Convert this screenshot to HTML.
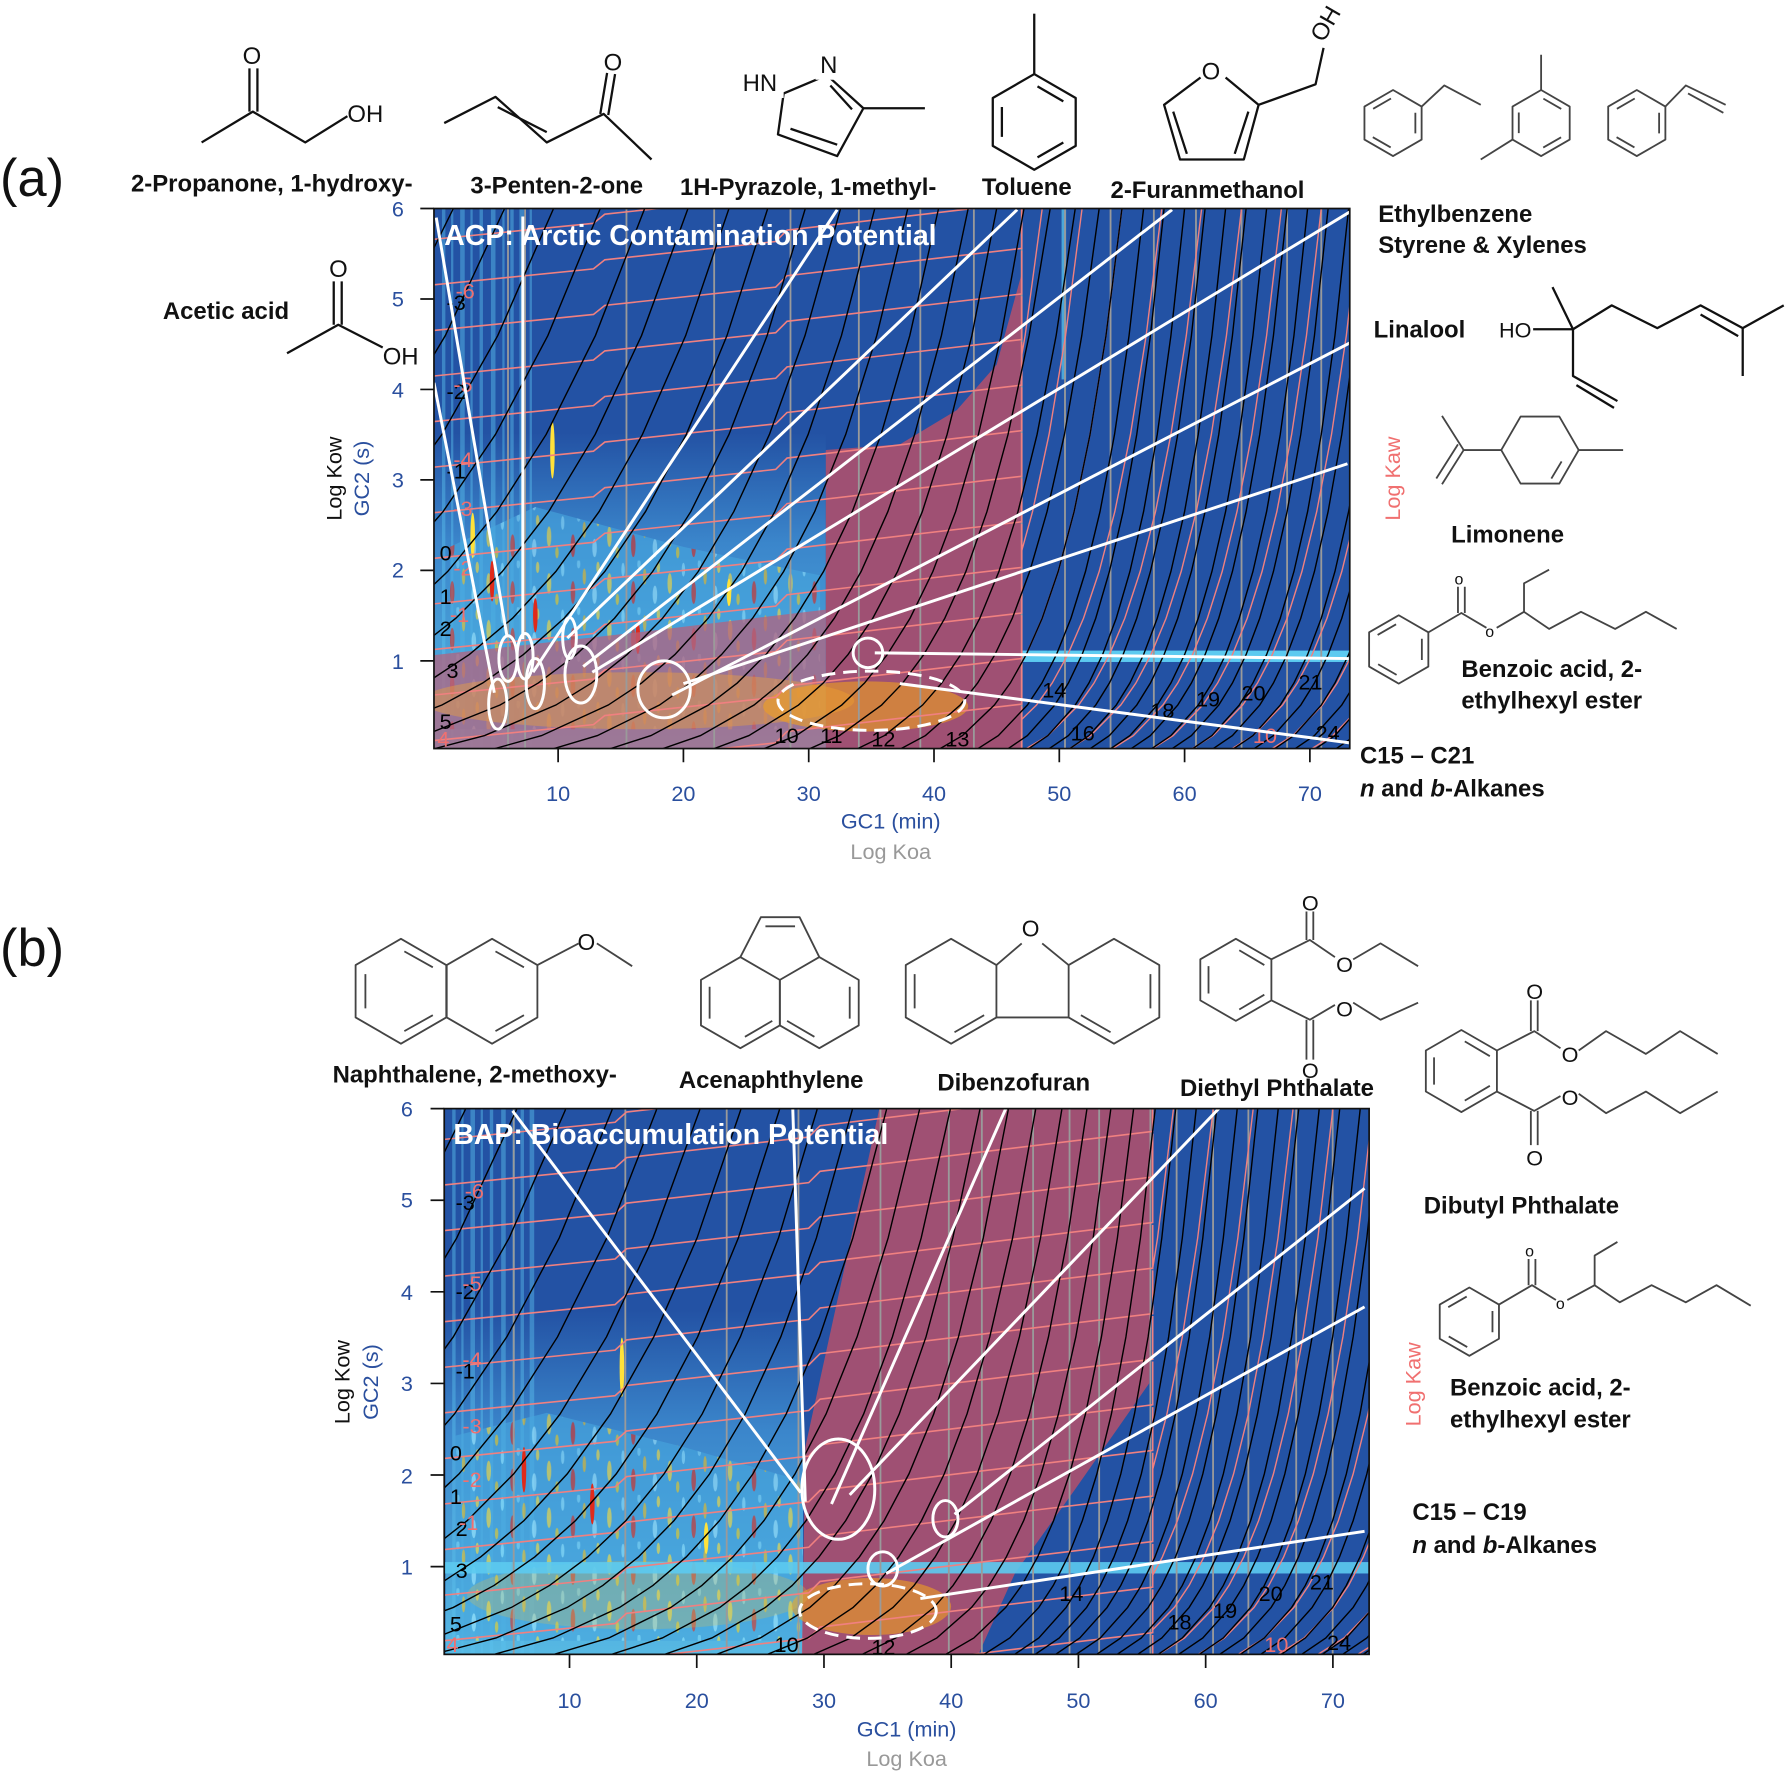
<!DOCTYPE html>
<html><head><meta charset="utf-8">
<style>
html,body{margin:0;padding:0;background:#fff;overflow:hidden;width:1786px;height:1774px;}
svg{display:block;}
text{font-family:"Liberation Sans",Arial,sans-serif;}
.lb{font-weight:bold;font-size:21px;fill:#111;}
.ax{font-size:19px;fill:#2a4f9e;}
.st{fill:none;stroke:#444;stroke-width:1.6;stroke-linejoin:round;}
.sb{fill:none;stroke:#111;stroke-width:2;stroke-linejoin:round;}
.bk{fill:none;stroke:#000;stroke-width:1.4;vector-effect:non-scaling-stroke;}
.pkc{fill:none;stroke:#f08080;stroke-width:1.4;vector-effect:non-scaling-stroke;}
.pk{fill:none;stroke:#f08080;stroke-width:1.4;}
.wl{stroke:#fff;stroke-width:2.6;fill:none;}
.nb{font-size:19px;fill:#000;}
.np{font-size:19px;fill:#f07070;}
</style></head>
<body>
<svg xmlns="http://www.w3.org/2000/svg" xmlns:xlink="http://www.w3.org/1999/xlink" width="1786" height="1774" viewBox="0 0 1568 1557" preserveAspectRatio="none">
<defs>
<clipPath id="ca"><rect x="381" y="183" width="804" height="474"/></clipPath>
<clipPath id="cb"><rect x="390" y="973" width="812" height="479"/></clipPath>
<clipPath id="car"><rect x="897" y="183" width="288" height="474"/></clipPath>
<clipPath id="cbr"><rect x="1012" y="973" width="190" height="479"/></clipPath>
<polyline id="bk" class="bk" points="-6,685.8 -5,683.6 -4,677.8 -3.5,671.8 -3,661.9 -2.5,645.6 -2,618.8 -1.75,599.5 -1.5,574.5 -1.25,542.6 -1,501.6 -0.75,449 -0.5,381.3 -0.25,294.5 0,183 0.1,130 0.2,71"/>
<polyline id="pc" class="pkc" points="-6,685.8 -5,683.6 -4,677.8 -3.5,671.8 -3,661.9 -2.5,645.6 -2,618.8 -1.75,599.5 -1.5,574.5 -1.25,542.6 -1,501.6 -0.75,449 -0.5,381.3 -0.25,294.5 0,183 0.1,130 0.2,71"/>
<polyline id="pkA" class="pk" points="0,0 140,-14 150,-22 300,-38 310,-48 516,-72 516,-110"/>
<polyline id="pkB" class="pk" points="0,0 150,-15 160,-24 320,-42 330,-52 622,-87 622,-125"/>
<pattern id="nz" width="53" height="41" patternUnits="userSpaceOnUse">
<rect width="53" height="41" fill="#46a6de"/>
<ellipse cx="5" cy="20" rx="2" ry="9" fill="#ffe23a"/>
<ellipse cx="17" cy="8" rx="1.5" ry="6" fill="#8fe4ff"/>
<ellipse cx="26" cy="28" rx="2" ry="10" fill="#e02a1a"/>
<ellipse cx="36" cy="14" rx="1.5" ry="7" fill="#f0c020"/>
<ellipse cx="45" cy="30" rx="2" ry="8" fill="#9ee8ff"/>
<ellipse cx="12" cy="34" rx="1.5" ry="5" fill="#f0d020"/>
<ellipse cx="48" cy="6" rx="1.5" ry="5" fill="#ffe23a"/>
<ellipse cx="31" cy="3" rx="1.5" ry="4" fill="#7fd8f8"/>
</pattern>
<linearGradient id="hz" x1="0" y1="0" x2="0" y2="1">
<stop offset="0" stop-color="#3f8fd2" stop-opacity="0"/>
<stop offset="0.35" stop-color="#3f8fd2" stop-opacity="0.85"/>
<stop offset="1" stop-color="#5cc4ea" stop-opacity="0.9"/>
</linearGradient>
<g id="bkA">
<use xlink:href="#bk" transform="translate(301,0) scale(247,1)"/><use xlink:href="#bk" transform="translate(351,0) scale(233,1)"/><use xlink:href="#bk" transform="translate(398,0) scale(220,1)"/><use xlink:href="#bk" transform="translate(443,0) scale(208,1)"/><use xlink:href="#bk" transform="translate(486,0) scale(196,1)"/><use xlink:href="#bk" transform="translate(527,0) scale(184,1)"/><use xlink:href="#bk" transform="translate(566,0) scale(173,1)"/><use xlink:href="#bk" transform="translate(604,0) scale(163,1)"/><use xlink:href="#bk" transform="translate(640,0) scale(152,1)"/><use xlink:href="#bk" transform="translate(674,0) scale(143,1)"/><use xlink:href="#bk" transform="translate(707,0) scale(134,1)"/><use xlink:href="#bk" transform="translate(738,0) scale(125,1)"/><use xlink:href="#bk" transform="translate(768,0) scale(117,1)"/><use xlink:href="#bk" transform="translate(797,0) scale(109,1)"/><use xlink:href="#bk" transform="translate(824,0) scale(101,1)"/><use xlink:href="#bk" transform="translate(850,0) scale(94,1)"/><use xlink:href="#bk" transform="translate(875,0) scale(87,1)"/><use xlink:href="#bk" transform="translate(899,0) scale(80,1)"/><use xlink:href="#bk" transform="translate(922,0) scale(74,1)"/><use xlink:href="#bk" transform="translate(944,0) scale(67,1)"/><use xlink:href="#bk" transform="translate(965,0) scale(61,1)"/><use xlink:href="#bk" transform="translate(985,0) scale(56,1)"/><use xlink:href="#bk" transform="translate(1004,0) scale(51,1)"/><use xlink:href="#bk" transform="translate(1022,0) scale(48,1)"/><use xlink:href="#bk" transform="translate(1040,0) scale(48,1)"/><use xlink:href="#bk" transform="translate(1058,0) scale(48,1)"/><use xlink:href="#bk" transform="translate(1076,0) scale(48,1)"/><use xlink:href="#bk" transform="translate(1094,0) scale(48,1)"/><use xlink:href="#bk" transform="translate(1112,0) scale(48,1)"/><use xlink:href="#bk" transform="translate(1130,0) scale(48,1)"/><use xlink:href="#bk" transform="translate(1148,0) scale(48,1)"/><use xlink:href="#bk" transform="translate(1166,0) scale(48,1)"/><use xlink:href="#bk" transform="translate(1184,0) scale(48,1)"/><use xlink:href="#bk" transform="translate(1202,0) scale(48,1)"/><use xlink:href="#bk" transform="translate(1220,0) scale(48,1)"/><use xlink:href="#bk" transform="translate(1238,0) scale(48,1)"/><use xlink:href="#bk" transform="translate(1256,0) scale(48,1)"/><use xlink:href="#bk" transform="translate(1274,0) scale(48,1)"/><use xlink:href="#bk" transform="translate(1292,0) scale(48,1)"/><use xlink:href="#bk" transform="translate(1310,0) scale(48,1)"/><use xlink:href="#bk" transform="translate(1328,0) scale(48,1)"/>
</g>
<g id="pcR">
<use xlink:href="#pc" transform="translate(880,0) scale(62,1)"/><use xlink:href="#pc" transform="translate(915,0) scale(60,1)"/><use xlink:href="#pc" transform="translate(950,0) scale(58,1)"/><use xlink:href="#pc" transform="translate(985,0) scale(56,1)"/><use xlink:href="#pc" transform="translate(1020,0) scale(55,1)"/><use xlink:href="#pc" transform="translate(1055,0) scale(54,1)"/><use xlink:href="#pc" transform="translate(1090,0) scale(53,1)"/><use xlink:href="#pc" transform="translate(1125,0) scale(52,1)"/><use xlink:href="#pc" transform="translate(1160,0) scale(52,1)"/><use xlink:href="#pc" transform="translate(1195,0) scale(52,1)"/><use xlink:href="#pc" transform="translate(1230,0) scale(52,1)"/><use xlink:href="#pc" transform="translate(1265,0) scale(52,1)"/><use xlink:href="#pc" transform="translate(1300,0) scale(52,1)"/><use xlink:href="#pc" transform="translate(1335,0) scale(52,1)"/>
</g>
</defs>

<!-- ================= PLOT A ================= -->
<g clip-path="url(#ca)">
<rect x="381" y="183" width="804" height="474" fill="#2352a4"/>
<rect x="381" y="380" width="344" height="277" fill="url(#hz)"/>
<g fill="#5cc0ee" opacity="0.45">
<rect x="388" y="183" width="3" height="474"/><rect x="396" y="183" width="2" height="474"/><rect x="404" y="183" width="4" height="474"/>
<rect x="413" y="183" width="2" height="474"/><rect x="421" y="183" width="3" height="474"/><rect x="431" y="183" width="4" height="474"/>
<rect x="441" y="183" width="2" height="474"/><rect x="448" y="183" width="3" height="474"/><rect x="456" y="183" width="4" height="474"/><rect x="465" y="183" width="2" height="474"/>
</g>
<polygon points="395,640 395,480 470,445 600,480 720,505 720,640" fill="url(#nz)" opacity="0.6"/>
<g>
<ellipse cx="485" cy="395" rx="2" ry="25" fill="#ffe23a"/>
<ellipse cx="415" cy="470" rx="2" ry="20" fill="#ffe23a"/>
<ellipse cx="432" cy="510" rx="2" ry="18" fill="#e02a1a"/>
<ellipse cx="470" cy="540" rx="2" ry="15" fill="#e02a1a"/>
<ellipse cx="560" cy="560" rx="2" ry="14" fill="#e02a1a"/>
<ellipse cx="640" cy="520" rx="2" ry="12" fill="#ffe23a"/>
</g>
<polygon points="725,395 790,390 840,360 875,320 897,240 897,657 725,657" fill="#b0506c" opacity="0.88"/>
<polygon points="381,575 560,555 725,535 725,657 381,657" fill="#b8607a" opacity="0.72"/>
<ellipse cx="560" cy="615" rx="190" ry="25" fill="#e8a040" opacity="0.45"/>
<ellipse cx="760" cy="620" rx="90" ry="22" fill="#f0a020" opacity="0.6"/>
<rect x="897" y="571" width="288" height="10" fill="#5ccaf0"/>
<rect x="932" y="183" width="4" height="150" fill="#5ccaf0" opacity="0.7"/>
<path d="M446 183V657M461 183V657M550 183V657M627 183V657M694 183V657M754 183V657M808 183V657M855 183V657M897 183V657M935 183V657M975 183V657M1013 183V657M1050 183V657M1090 183V657M1130 183V657M1160 183V657" stroke="#9a9a9a" stroke-width="1.6"/>
<g>
<use xlink:href="#pkA" transform="translate(381,210)"/><use xlink:href="#pkA" transform="translate(381,250)"/><use xlink:href="#pkA" transform="translate(381,290)"/><use xlink:href="#pkA" transform="translate(381,330)"/><use xlink:href="#pkA" transform="translate(381,370)"/><use xlink:href="#pkA" transform="translate(381,410)"/><use xlink:href="#pkA" transform="translate(381,450)"/><use xlink:href="#pkA" transform="translate(381,490)"/><use xlink:href="#pkA" transform="translate(381,530)"/><use xlink:href="#pkA" transform="translate(381,570)"/><use xlink:href="#pkA" transform="translate(381,610)"/><use xlink:href="#pkA" transform="translate(381,650)"/><use xlink:href="#pkA" transform="translate(381,690)"/><use xlink:href="#pkA" transform="translate(381,730)"/>
</g>
<g clip-path="url(#car)"><use xlink:href="#pcR"/></g>
<use xlink:href="#bkA"/>
<text class="nb" x="392" y="272">-3</text><text class="nb" x="392" y="350">-2</text><text class="nb" x="392" y="420">-1</text><text class="nb" x="386" y="492">0</text><text class="nb" x="386" y="530">1</text><text class="nb" x="386" y="558">2</text><text class="nb" x="392" y="595">3</text><text class="nb" x="386" y="640">5</text>
<text class="np" x="400" y="262">-6</text><text class="np" x="398" y="344">-5</text><text class="np" x="398" y="410">-4</text><text class="np" x="398" y="453">-3</text><text class="np" x="398" y="505">-2</text><text class="np" x="395" y="546">-1</text><text class="np" x="384" y="655">4</text>
<text class="nb" x="915" y="612">14</text><text class="nb" x="1010" y="630">18</text><text class="nb" x="1050" y="620">19</text><text class="nb" x="1090" y="615">20</text><text class="nb" x="1140" y="605">21</text>
<text class="nb" x="680" y="652">10</text><text class="nb" x="720" y="652">11</text><text class="nb" x="765" y="655">12</text><text class="nb" x="830" y="655">13</text><text class="nb" x="940" y="650">16</text><text class="np" x="1100" y="652">10</text><text class="nb" x="1155" y="650">24</text>
<g class="wl">
<line x1="383" y1="191" x2="445" y2="558"/><line x1="381" y1="336" x2="434" y2="608"/><line x1="459" y1="190" x2="459" y2="561"/><line x1="468" y1="590" x2="735" y2="184"/><line x1="498" y1="560" x2="893" y2="184"/><line x1="512" y1="585" x2="1029" y2="184"/><line x1="520" y1="590" x2="1185" y2="186"/><line x1="590" y1="610" x2="1185" y2="301"/><line x1="600" y1="600" x2="1183" y2="407"/><line x1="768" y1="573" x2="1185" y2="578"/><line x1="790" y1="600" x2="1185" y2="652"/>
<ellipse cx="437" cy="618" rx="8" ry="22"/><ellipse cx="446" cy="578" rx="8" ry="20"/><ellipse cx="461" cy="576" rx="7" ry="20"/><ellipse cx="470" cy="600" rx="8" ry="22"/><ellipse cx="500" cy="560" rx="6" ry="18"/><ellipse cx="510" cy="592" rx="14" ry="25"/><ellipse cx="583" cy="605" rx="23" ry="25"/><ellipse cx="762" cy="573" rx="13" ry="13"/><ellipse cx="765" cy="615" rx="82" ry="26" stroke-dasharray="12 7"/>
</g>
<text x="390" y="215" font-size="25" font-weight="bold" fill="#fff">ACP: Arctic Contamination  Potential</text>
</g>

<!-- ================= PLOT B ================= -->
<g clip-path="url(#cb)">
<rect x="390" y="973" width="812" height="479" fill="#2352a4"/>
<rect x="391" y="1150" width="314" height="302" fill="url(#hz)"/>
<g fill="#5cc0ee" opacity="0.45">
<rect x="397" y="973" width="3" height="479"/><rect x="405" y="973" width="2" height="479"/><rect x="413" y="973" width="4" height="479"/>
<rect x="422" y="973" width="2" height="479"/><rect x="430" y="973" width="3" height="479"/><rect x="440" y="973" width="4" height="479"/>
<rect x="450" y="973" width="2" height="479"/><rect x="457" y="973" width="3" height="479"/><rect x="465" y="973" width="4" height="479"/>
</g>
<polygon points="400,1440 400,1260 480,1240 600,1270 705,1300 705,1440" fill="url(#nz)" opacity="0.6"/>
<ellipse cx="546" cy="1200" rx="2" ry="26" fill="#ffe23a"/>
<ellipse cx="460" cy="1290" rx="2" ry="20" fill="#e02a1a"/>
<ellipse cx="520" cy="1320" rx="2" ry="18" fill="#e02a1a"/>
<ellipse cx="620" cy="1350" rx="2" ry="14" fill="#ffe23a"/>
<polygon points="772,973 1012,973 1009,1214 944,1307 891,1381 859,1452 704,1452 707,1270" fill="#b0506c" opacity="0.88"/>
<ellipse cx="765" cy="1410" rx="70" ry="25" fill="#f0a020" opacity="0.6"/>
<ellipse cx="560" cy="1400" rx="150" ry="30" fill="#e8c040" opacity="0.25"/>
<rect x="390" y="1371" width="812" height="10" fill="#5ccaf0" opacity="0.9"/>
<path d="M451 973V1452M549 973V1452M638 973V1452M701 973V1452M773 973V1452M833 973V1452M862 973V1452M907 973V1452M939 973V1452M965 973V1452M1010 973V1452M1033 973V1452M1065 973V1452M1096 973V1452M1138 973V1452M1170 973V1452" stroke="#9a9a9a" stroke-width="1.6"/>
<g>
<use xlink:href="#pkB" transform="translate(390,1000)"/><use xlink:href="#pkB" transform="translate(390,1040)"/><use xlink:href="#pkB" transform="translate(390,1080)"/><use xlink:href="#pkB" transform="translate(390,1120)"/><use xlink:href="#pkB" transform="translate(390,1160)"/><use xlink:href="#pkB" transform="translate(390,1200)"/><use xlink:href="#pkB" transform="translate(390,1240)"/><use xlink:href="#pkB" transform="translate(390,1280)"/><use xlink:href="#pkB" transform="translate(390,1320)"/><use xlink:href="#pkB" transform="translate(390,1360)"/><use xlink:href="#pkB" transform="translate(390,1400)"/><use xlink:href="#pkB" transform="translate(390,1440)"/><use xlink:href="#pkB" transform="translate(390,1480)"/><use xlink:href="#pkB" transform="translate(390,1520)"/><use xlink:href="#pkB" transform="translate(390,1560)"/>
</g>
<g clip-path="url(#cbr)"><use xlink:href="#pcR" transform="translate(10,792)"/></g>
<use xlink:href="#bkA" transform="translate(10,792)"/>
<text class="nb" x="400" y="1062">-3</text><text class="nb" x="400" y="1140">-2</text><text class="nb" x="400" y="1210">-1</text><text class="nb" x="395" y="1282">0</text><text class="nb" x="395" y="1320">1</text><text class="nb" x="400" y="1348">2</text><text class="nb" x="400" y="1385">3</text><text class="nb" x="395" y="1432">5</text>
<text class="np" x="408" y="1052">-6</text><text class="np" x="406" y="1133">-5</text><text class="np" x="406" y="1200">-4</text><text class="np" x="406" y="1258">-3</text><text class="np" x="406" y="1305">-2</text><text class="np" x="403" y="1343">-1</text><text class="np" x="392" y="1450">4</text>
<text class="nb" x="930" y="1405">14</text><text class="nb" x="1025" y="1430">18</text><text class="nb" x="1065" y="1420">19</text><text class="nb" x="1105" y="1405">20</text><text class="nb" x="1150" y="1395">21</text>
<text class="nb" x="680" y="1450">10</text><text class="nb" x="765" y="1452">12</text><text class="np" x="1110" y="1450">10</text><text class="nb" x="1165" y="1448">24</text>
<g class="wl">
<line x1="450" y1="975" x2="703" y2="1310"/><line x1="696" y1="973" x2="707" y2="1318"/><line x1="730" y1="1320" x2="883" y2="973"/><line x1="746" y1="1312" x2="1070" y2="973"/><line x1="838" y1="1329" x2="1198" y2="1043"/><line x1="778" y1="1381" x2="1198" y2="1147"/><line x1="808" y1="1403" x2="1198" y2="1344"/>
<ellipse cx="736" cy="1307" rx="32" ry="44"/><ellipse cx="830" cy="1333" rx="11" ry="16"/><ellipse cx="775" cy="1377" rx="13" ry="15"/><ellipse cx="762" cy="1414" rx="60" ry="24" stroke-dasharray="12 7"/>
</g>
<text x="398" y="1004" font-size="25" font-weight="bold" fill="#fff">BAP: Bioaccumulation  Potential</text>
</g>

<!-- frames & ticks -->
<rect x="381" y="183" width="804" height="474" fill="none" stroke="#111" stroke-width="1.5"/>
<rect x="390" y="973" width="812" height="479" fill="none" stroke="#111" stroke-width="1.5"/>
<path d="M369 580H381M369 500.6H381M369 421.2H381M369 341.8H381M369 262.4H381M369 183H381M490 657V669M600 657V669M710 657V669M820 657V669M930 657V669M1040 657V669M1150 657V669" stroke="#111" stroke-width="1.5"/>
<path d="M378 1375H390M378 1294.6H390M378 1214.2H390M378 1133.8H390M378 1053.4H390M378 973H390M500 1452V1464M611.7 1452V1464M723.4 1452V1464M835.1 1452V1464M946.8 1452V1464M1058.5 1452V1464M1170.2 1452V1464" stroke="#111" stroke-width="1.5"/>
<g class="ax">
<text x="344" y="587">1</text><text x="344" y="507">2</text><text x="344" y="428">3</text><text x="344" y="349">4</text><text x="344" y="269">5</text><text x="344" y="190">6</text>
<text x="490" y="703" text-anchor="middle">10</text><text x="600" y="703" text-anchor="middle">20</text><text x="710" y="703" text-anchor="middle">30</text><text x="820" y="703" text-anchor="middle">40</text><text x="930" y="703" text-anchor="middle">50</text><text x="1040" y="703" text-anchor="middle">60</text><text x="1150" y="703" text-anchor="middle">70</text>
<text x="352" y="1382">1</text><text x="352" y="1302">2</text><text x="352" y="1221">3</text><text x="352" y="1141">4</text><text x="352" y="1060">5</text><text x="352" y="980">6</text>
<text x="500" y="1499" text-anchor="middle">10</text><text x="611.7" y="1499" text-anchor="middle">20</text><text x="723.4" y="1499" text-anchor="middle">30</text><text x="835.1" y="1499" text-anchor="middle">40</text><text x="946.8" y="1499" text-anchor="middle">50</text><text x="1058.5" y="1499" text-anchor="middle">60</text><text x="1170.2" y="1499" text-anchor="middle">70</text>
</g>

<!-- Panel labels -->
<text x="0" y="172" font-size="46" fill="#111">(a)</text>
<text x="0" y="848" font-size="46" fill="#111">(b)</text>
<text class="lb" x="115" y="168">2-Propanone, 1-hydroxy-</text>
<text class="lb" x="413" y="170">3-Penten-2-one</text>
<text class="lb" x="597" y="171">1H-Pyrazole, 1-methyl-</text>
<text class="lb" x="862" y="171">Toluene</text>
<text class="lb" x="975" y="174">2-Furanmethanol</text>
<text class="lb" x="1210" y="195">Ethylbenzene</text>
<text class="lb" x="1210" y="222">Styrene &amp; Xylenes</text>
<text class="lb" x="143" y="280">Acetic acid</text>
<text class="lb" x="1206" y="296">Linalool</text>
<text class="lb" x="1274" y="476">Limonene</text>
<text class="lb" x="1283" y="594">Benzoic acid, 2-</text>
<text class="lb" x="1283" y="622">ethylhexyl ester</text>
<text class="lb" x="1194" y="670">C15 – C21</text>
<text class="lb" x="1194" y="699"><tspan font-style="italic">n</tspan> and <tspan font-style="italic">b</tspan>-Alkanes</text>
<text class="lb" x="292" y="950">Naphthalene, 2-methoxy-</text>
<text class="lb" x="596" y="955">Acenaphthylene</text>
<text class="lb" x="823" y="957">Dibenzofuran</text>
<text class="lb" x="1036" y="962">Diethyl Phthalate</text>
<text class="lb" x="1250" y="1065">Dibutyl Phthalate</text>
<text class="lb" x="1273" y="1225">Benzoic acid, 2-</text>
<text class="lb" x="1273" y="1253">ethylhexyl ester</text>
<text class="lb" x="1240" y="1334">C15 – C19</text>
<text class="lb" x="1240" y="1363"><tspan font-style="italic">n</tspan> and <tspan font-style="italic">b</tspan>-Alkanes</text>

<text class="ax" x="782" y="727" text-anchor="middle">GC1 (min)</text>
<text x="782" y="754" text-anchor="middle" font-size="19" fill="#999">Log Koa</text>
<text x="300" y="420" font-size="19" fill="#111" text-anchor="middle" transform="rotate(-90 300 420)">Log Kow</text>
<text class="ax" x="324" y="420" text-anchor="middle" transform="rotate(-90 324 420)">GC2 (s)</text>
<text x="1229" y="420" font-size="19" fill="#f07070" text-anchor="middle" transform="rotate(-90 1229 420)">Log Kaw</text>
<text class="ax" x="796" y="1524" text-anchor="middle">GC1 (min)</text>
<text x="796" y="1550" text-anchor="middle" font-size="19" fill="#999">Log Koa</text>
<text x="307" y="1213" font-size="19" fill="#111" text-anchor="middle" transform="rotate(-90 307 1213)">Log Kow</text>
<text class="ax" x="332" y="1213" text-anchor="middle" transform="rotate(-90 332 1213)">GC2 (s)</text>
<text x="1247" y="1215" font-size="19" fill="#f07070" text-anchor="middle" transform="rotate(-90 1247 1215)">Log Kaw</text>

<!-- ================= MOLECULES ================= -->
<g font-size="21" fill="#111">
<polyline class="sb" points="177,125 222,98 268,125 305,102"/>
<path class="sb" d="M219 98V60M226 98V60"/>
<text x="213" y="56">O</text><text x="305" y="107">OH</text>
<polyline class="sb" points="390,108 435,85 480,125 530,100 572,140"/>
<path class="sb" d="M437 94L480 116M527 100L533 64M534 101L540 65"/>
<text x="530" y="62">O</text>
<polygon class="sb" points="688,82 726,66 758,95 735,137 683,118"/>
<path class="sb" d="M735 127L694 113M748 96L729 75M758 95H812"/>
<rect x="650" y="60" width="38" height="26" fill="#fff"/><rect x="716" y="44" width="24" height="26" fill="#fff"/>
<text x="652" y="80">HN</text><text x="720" y="64">N</text>
<polygon class="sb" points="908,65 944.4,86 944.4,128 908,149 871.6,128 871.6,86"/>
<polygon class="sb" points="908,74.2 936.4,90.6 936.4,123.4 908,139.8 879.6,123.4 879.6,90.6" stroke-dasharray="0 3.3 26.2 36.1"/>
<path class="sb" d="M908 65V12"/>
<polyline class="sb" points="1054,68 1022,92 1036,140 1092,140 1105,92 1076,68"/>
<path class="sb" d="M1096 98L1084 135M1030 98L1042 135"/>
<text x="1055" y="70">O</text>
<polyline class="sb" points="1105,92 1155,74 1162,42"/>
<text x="1162" y="38" transform="rotate(-60 1162 38)">OH</text>
<polygon class="st" points="1223,79 1248.1,93.5 1248.1,122.5 1223,137 1197.9,122.5 1197.9,93.5"/>
<polygon class="st" points="1242.6,96.7 1242.6,119.3 1223,130.6 1203.4,119.3 1203.4,96.7 1223,85.4" stroke-dasharray="0 2.3 18.1 24.9"/>
<polyline class="st" points="1248.1,93.5 1268,75 1300,92"/>
<polygon class="st" points="1353,79 1378.1,93.5 1378.1,122.5 1353,137 1327.9,122.5 1327.9,93.5"/>
<polygon class="st" points="1353,85.4 1372.6,96.7 1372.6,119.3 1353,130.6 1333.4,119.3 1333.4,96.7" stroke-dasharray="0 2.3 18.1 24.9"/>
<path class="st" d="M1353 79V48M1327.9 122.5L1300 140"/>
<polygon class="st" points="1437,79 1462.1,93.5 1462.1,122.5 1437,137 1411.9,122.5 1411.9,93.5"/>
<polygon class="st" points="1456.6,96.7 1456.6,119.3 1437,130.6 1417.4,119.3 1417.4,96.7 1437,85.4" stroke-dasharray="0 2.3 18.1 24.9"/>
<polyline class="st" points="1462.1,93.5 1480,75 1515,92"/>
<path class="st" d="M1482 82L1513 99"/>
<polyline class="sb" points="252,310 297,285 336,305"/>
<path class="sb" d="M293 285V247M300 285V247"/>
<text x="289" y="243">O</text><text x="336" y="320">OH</text>
<text x="1316" y="296" font-size="19">HO</text>
<path class="sb" d="M1346 289H1381"/>
<polyline class="sb" points="1363,252 1381,289 1415,268 1455,288 1493,268 1530,288 1566,268"/>
<path class="sb" d="M1493 276L1526 295M1530 288V330"/>
<polyline class="sb" points="1381,289 1381,330 1420,352"/>
<path class="sb" d="M1384 338L1417 358"/>
<polygon class="st" points="1369,365.6 1386,395 1369,424.4 1335,424.4 1318,395 1335,365.6"/>
<path class="st" d="M1371 405L1362 420M1386 395H1425M1318 395H1285M1285 395L1266 365M1285 395L1266 425M1280 390L1261 420"/>
<polygon class="st" points="1228,540 1254,555 1254,585 1228,600 1202,585 1202,555"/>
<polygon class="st" points="1248.3,558.3 1248.3,581.7 1228,593.4 1207.7,581.7 1207.7,558.3 1228,546.6" stroke-dasharray="0 2.3 18.7 25.7"/>
<polyline class="st" points="1254,555 1283,538 1305,551"/>
<polyline class="st" points="1314,551 1338,537 1360,552 1388,537 1418,552 1445,537 1472,552"/>
<path class="st" d="M1280 538V515M1286 538V515M1338 537V512L1360 500"/>
<text x="1277" y="513" font-size="14">o</text><text x="1304" y="559" font-size="14">o</text>
<polygon class="st" points="352,824 391.8,847 391.8,893 352,916 312.2,893 312.2,847"/>
<polygon class="st" points="432,824 471.8,847 471.8,893 432,916 392.2,893 392.2,847"/>
<path class="st" d="M355 835L380 849M355 905L380 891M320.8 855V885M435 835L460 849M435 905L460 891"/>
<polyline class="st" points="471.8,847 508,828"/><polyline class="st" points="524,828 555,848"/>
<text x="507" y="834" font-size="20">O</text>
<polygon class="st" points="650,840 684.6,860 684.6,900 650,920 615.4,900 615.4,860"/>
<polygon class="st" points="719.3,840 753.9,860 753.9,900 719.3,920 684.7,900 684.7,860"/>
<polyline class="st" points="650,840 668,805 702,805 719.3,840"/>
<path class="st" d="M672 813H698M623 866V894M654 910L678 896M746 866V894M715 910L691 896"/>
<polygon class="st" points="835,824 874.8,847 874.8,893 835,916 795.2,893 795.2,847"/>
<polygon class="st" points="978,824 1017.8,847 1017.8,893 978,916 938.2,893 938.2,847"/>
<polyline class="st" points="874.8,847 897,828"/><polyline class="st" points="915,828 938.2,847"/>
<path class="st" d="M874.8 893H938.2M803 855V885M838 906L864 891M1010 855V885M975 906L949 891"/>
<text x="897" y="822" font-size="20">O</text>
<polygon class="st" points="1085,824 1116.2,842 1116.2,878 1085,896 1053.8,878 1053.8,842"/>
<path class="st" d="M1061 848V872M1088 834L1110 847M1088 886L1110 873"/>
<polyline class="st" points="1116.2,842 1150,825 1172,840"/><polyline class="st" points="1188,842 1212,828 1245,848"/>
<path class="st" d="M1147 825V800M1153 825V800"/>
<polyline class="st" points="1116.2,878 1150,895 1172,882"/><polyline class="st" points="1188,880 1212,895 1245,880"/>
<path class="st" d="M1147 895V930M1153 895V930"/>
<text x="1143" y="799" font-size="19">O</text><text x="1173" y="853" font-size="19">O</text><text x="1173" y="892" font-size="19">O</text><text x="1143" y="946" font-size="19">O</text>
<polygon class="st" points="1283,904 1314.2,922 1314.2,958 1283,976 1251.8,958 1251.8,922"/>
<path class="st" d="M1259 928V952M1286 914L1308 927M1286 966L1308 953"/>
<polyline class="st" points="1314.2,922 1347,905 1370,920"/><polyline class="st" points="1386,922 1410,905 1445,925 1475,905 1508,925"/>
<path class="st" d="M1344 905V878M1350 905V878"/>
<polyline class="st" points="1314.2,958 1347,975 1370,962"/><polyline class="st" points="1386,960 1410,977 1445,958 1475,977 1508,958"/>
<path class="st" d="M1344 975V1005M1350 975V1005"/>
<text x="1340" y="877" font-size="19">O</text><text x="1371" y="932" font-size="19">O</text><text x="1371" y="970" font-size="19">O</text><text x="1340" y="1023" font-size="19">O</text>
<polygon class="st" points="1290,1130 1316,1145 1316,1175 1290,1190 1264,1175 1264,1145"/>
<polygon class="st" points="1310.3,1148.3 1310.3,1171.7 1290,1183.4 1269.7,1171.7 1269.7,1148.3 1290,1136.6" stroke-dasharray="0 2.3 18.7 25.7"/>
<polyline class="st" points="1316,1145 1345,1128 1366,1141"/>
<polyline class="st" points="1376,1141 1400,1128 1422,1143 1450,1128 1480,1143 1507,1128 1537,1146"/>
<path class="st" d="M1342 1128V1105M1348 1128V1105M1400 1128V1102L1420 1090"/>
<text x="1339" y="1103" font-size="14">o</text><text x="1366" y="1149" font-size="14">o</text>
</g>
</svg>
</body></html>
